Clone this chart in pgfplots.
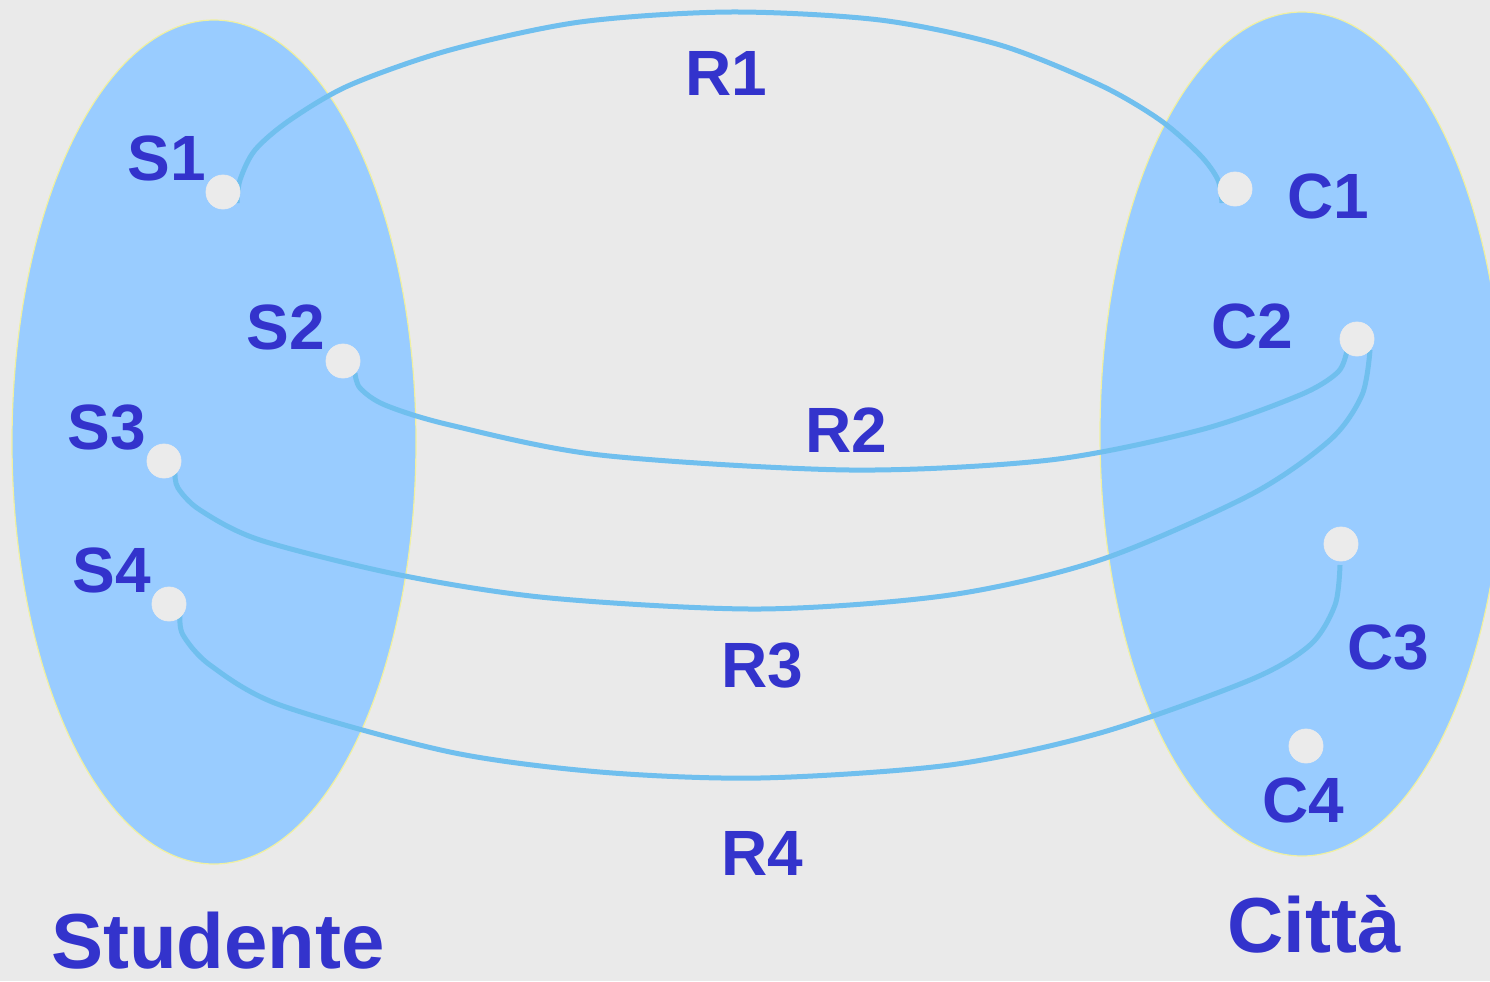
\documentclass[border=0pt]{standalone}
\usepackage{fontspec}
\setmainfont{Liberation Sans}
\usepackage{pgfplots}
\pgfplotsset{compat=1.18}
\definecolor{bg}{HTML}{EAEAEA}
\definecolor{ell}{HTML}{99CCFF}
\definecolor{ellb}{HTML}{F0F0A0}
\definecolor{txt}{HTML}{3333CC}
\definecolor{curve}{HTML}{70BFEE}
\definecolor{dot}{HTML}{EBEBEB}
\tikzset{lbl/.style={font=\bfseries\fontsize{32}{36}\selectfont, text=txt, inner sep=0pt},
         big/.style={font=\bfseries\fontsize{39}{44}\selectfont, text=txt, inner sep=0pt}}
\begin{document}
\begin{tikzpicture}
\begin{axis}[
  x=0.5pt, y=0.5pt, y dir=reverse,
  xmin=0, xmax=1490, ymin=0, ymax=981,
  hide axis, clip=false,
]
\fill[bg] (axis cs:0,0) rectangle (axis cs:1490,981);
\begin{scope}
\clip (axis cs:0,0) rectangle (axis cs:1490,981);
\draw[fill=ell, draw=ellb, line width=0.6pt] (axis cs:214,442) ellipse [x radius=202, y radius=422];
\draw[fill=ell, draw=ellb, line width=0.6pt] (axis cs:1302,434) ellipse [x radius=202, y radius=422];
\end{scope}
% dots
\addplot[dot, only marks, mark=*, mark size=8.5pt, mark options={fill=dot, draw=dot}] coordinates {
 (223,192) (343,361) (164,461) (169,604)
 (1235,189) (1357,339) (1341,544) (1306,746)};
% R1
\addplot[curve, line width=2.5pt, smooth] coordinates {
 (237,203) (240,180) (255,150) (290,120) (350,85) (450,50) (580,22) (730,12) (880,20) (1000,45) (1100,85) (1160,120) (1200,155) (1218,180) (1222,203)};
% R2
\addplot[curve, line width=2.5pt, smooth] coordinates {
 (355,373) (360,388) (385,405) (450,425) (600,455) (850,470) (1050,460) (1200,430) (1300,395) (1338,372) (1347,350)};
% R3
\addplot[curve, line width=2.5pt, smooth] coordinates {
 (175,473) (178,488) (200,510) (260,540) (400,575) (550,598) (760,609) (950,595) (1100,560) (1250,495) (1330,440) (1362,395) (1370,350)};
% R4
\addplot[curve, line width=2.5pt, smooth] coordinates {
 (180,615) (183,635) (210,665) (280,705) (450,752) (600,772) (760,778) (950,765) (1100,733) (1250,680) (1310,645) (1335,605) (1340,565)};
% labels
\node[lbl] at (axis cs:167,158) {S1};
\node[lbl] at (axis cs:286,327) {S2};
\node[lbl] at (axis cs:107,428) {S3};
\node[lbl] at (axis cs:112,570) {S4};
\node[lbl] at (axis cs:1328,196) {C1};
\node[lbl] at (axis cs:1252,326) {C2};
\node[lbl] at (axis cs:1388,648) {C3};
\node[lbl] at (axis cs:1303,800) {C4};
\node[lbl] at (axis cs:726,73) {R1};
\node[lbl] at (axis cs:846,430) {R2};
\node[lbl] at (axis cs:762,666) {R3};
\node[lbl] at (axis cs:762,853) {R4};
\node[big] at (axis cs:218,941) {Studente};
\node[big] at (axis cs:1314,924) {Città};
\end{axis}
\pgfresetboundingbox
\path[use as bounding box] (current axis.south west) rectangle (current axis.north east);
\end{tikzpicture}
\end{document}
